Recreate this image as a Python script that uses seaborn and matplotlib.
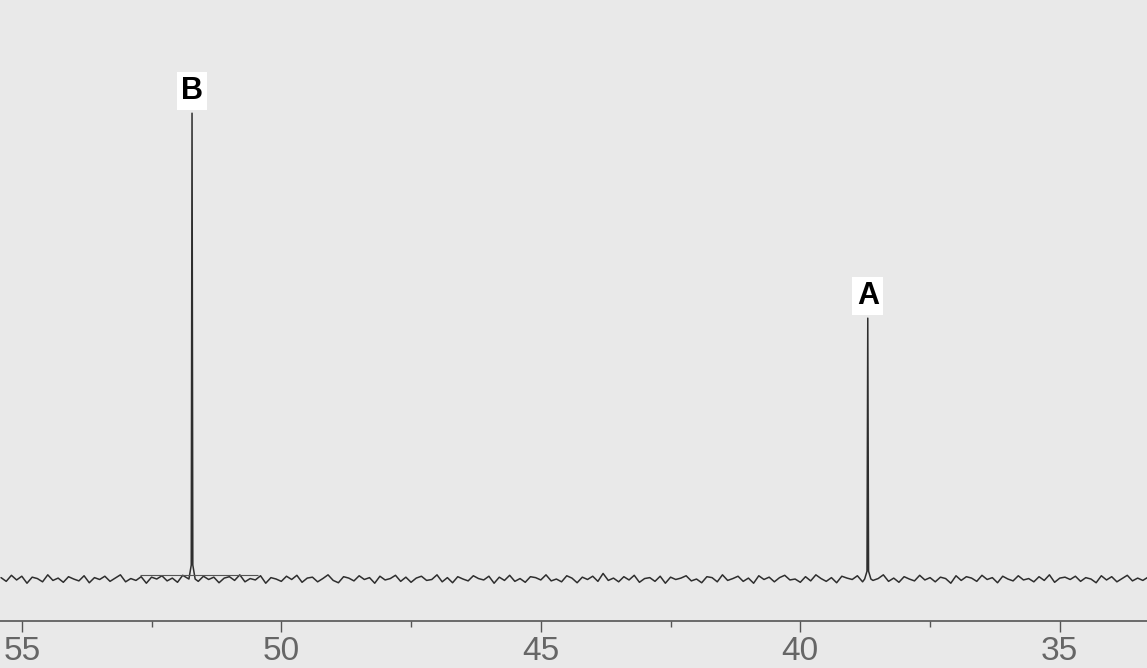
import numpy as np
import pandas as pd
import matplotlib
matplotlib.use('Agg')
import matplotlib.pyplot as plt
import seaborn as sns
from matplotlib.ticker import MultipleLocator

# Peak data (ppm, relative intensity)
peak_names = ['B', 'A']
peak_ppm = [51.72, 38.70]
peak_height = [100.0, 56.0]

# Baseline noise, one value every 0.1 ppm from 55.4 ppm
noise = [0.3, -0.5, 0.8, -0.2, 0.6, -0.9, 0.4, 0.1, -0.6, 0.9, -0.3, 0.2, -0.7, 0.5, 0.0, -0.4, 0.7, -0.8, 0.3, -0.1,
         0.6, -0.5, 0.2, 0.9, -0.6, 0.1, -0.3, 0.5, -0.9, 0.4, 0.0, 0.7, -0.4, 0.2, -0.7, 0.8, -0.2, 0.3, -0.5, 0.6,
         -0.1, 0.4, -0.8, 0.2, 0.5, -0.3, 0.9, -0.6, 0.1, -0.2, 0.7, -0.9, 0.3, 0.0, -0.5, 0.6, -0.1, 0.8, -0.7, 0.2,
         0.4, -0.6, 0.1, 0.9, -0.3, -0.8, 0.5, 0.2, -0.4, 0.7, -0.1, 0.3, -0.9, 0.6, -0.2, 0.1, 0.8, -0.5, 0.4, -0.7,
         0.2, 0.6, -0.3, -0.1, 0.9, -0.6, 0.3, -0.8, 0.5, 0.0, -0.4, 0.7, 0.1, -0.2, 0.6, -0.9, 0.4, -0.3, 0.8, -0.5,
         0.1, -0.7, 0.5, 0.3, -0.2, 0.9, -0.4, 0.0, -0.6, 0.7, 0.2, -0.8, 0.4, -0.1, 0.6, -0.5, 1.2, -0.3, 0.2, -0.6,
         0.5, -0.2, 0.8, -0.7, 0.1, 0.3, -0.5, 0.6, -0.9, 0.4, -0.1, 0.2, 0.7, -0.4, 0.0, -0.8, 0.5, 0.3, -0.6, 0.9,
         -0.3, 0.1, 0.6, -0.5, 0.2, -0.9, 0.7, -0.1, 0.4, -0.6, 0.3, 0.8, -0.2, 0.0, -0.7, 0.5, -0.4, 0.9, 0.1, -0.5,
         0.3, -0.8, 0.6, 0.2, -0.1, 0.7, -0.6, 0.4, -0.3, 0.1, 0.9, -0.5, 0.2, -0.7, 0.5, 0.0, -0.4, 0.8, -0.2, 0.3,
         -0.6, 0.4, 0.1, -0.9, 0.7, -0.3, 0.5, 0.2, -0.5, 0.8, -0.1, 0.3, -0.8, 0.6, 0.0, -0.4, 0.7, -0.2, 0.1, -0.6,
         0.5, -0.3, 0.9, -0.7, 0.2, 0.4, -0.1, 0.6, -0.5, 0.3, 0.0, -0.8, 0.7, -0.2, 0.5, -0.6, 0.1, 0.8, -0.4, 0.2,
         -0.3, 0.4]
grid_start = 55.4
grid_step = 0.1

# integral-like bar around peak B
integ_from = 52.73
integ_to = 50.45
integ_level = 0.9

# build the spectrum: noisy baseline plus narrow peaks
ppm = grid_start - grid_step * np.arange(len(noise))
base = pd.DataFrame({'ppm': ppm, 'intensity': noise})
for c in peak_ppm:
    base = base[np.abs(base['ppm'] - c) > 0.08]
rows = []
for c, h in zip(peak_ppm, peak_height):
    rows += [(c + 0.06, 0.0), (c + 0.015, 0.03 * h), (c, h), (c - 0.015, 0.03 * h), (c - 0.06, 0.0)]
df = pd.concat([base, pd.DataFrame(rows, columns=['ppm', 'intensity'])])
df = df.sort_values('ppm', ascending=False).reset_index(drop=True)

sns.set_style('white')
plt.rcParams['font.family'] = ['Liberation Sans', 'DejaVu Sans']

fig = plt.figure(figsize=(11.47, 6.68), dpi=100)
ax = fig.add_axes([0, 0, 1, 1])
bg = '#e9e9e9'
fig.patch.set_facecolor(bg)
ax.set_facecolor(bg)

sns.lineplot(data=df, x='ppm', y='intensity', color='#2e2e2e', lw=1.1,
             estimator=None, sort=False, ax=ax)
ax.hlines(integ_level, integ_from, integ_to, color='#555555', lw=0.8)

for name, c, h in zip(peak_names, peak_ppm, peak_height):
    ax.text(c, h + 3.0, name, ha='center', va='baseline', fontsize=22, fontweight='bold',
            family=['Liberation Sans'], color='black',
            bbox=dict(fc='white', ec='none', pad=3))

ax.set_xlim(55.42, 33.32)
ax.set_ylim(-19.1, 124.3)
for s in ['left', 'right', 'top']:
    ax.spines[s].set_visible(False)
ax.spines['bottom'].set_position(('data', -9))
ax.spines['bottom'].set_color('#555555')
ax.spines['bottom'].set_linewidth(1.2)
ax.xaxis.set_major_locator(MultipleLocator(5))
ax.xaxis.set_minor_locator(MultipleLocator(2.5))
ax.tick_params(axis='x', which='both', bottom=True)
ax.tick_params(axis='x', which='major', direction='out', length=8, width=1,
               color='#555555', labelsize=24, pad=3, labelcolor='#666666')
ax.tick_params(axis='x', which='minor', direction='out', length=4, width=1, color='#555555')
ax.set_yticks([])
ax.set_xlabel('')
ax.set_ylabel('')

fig.savefig('out.png', dpi=100, facecolor=bg)
